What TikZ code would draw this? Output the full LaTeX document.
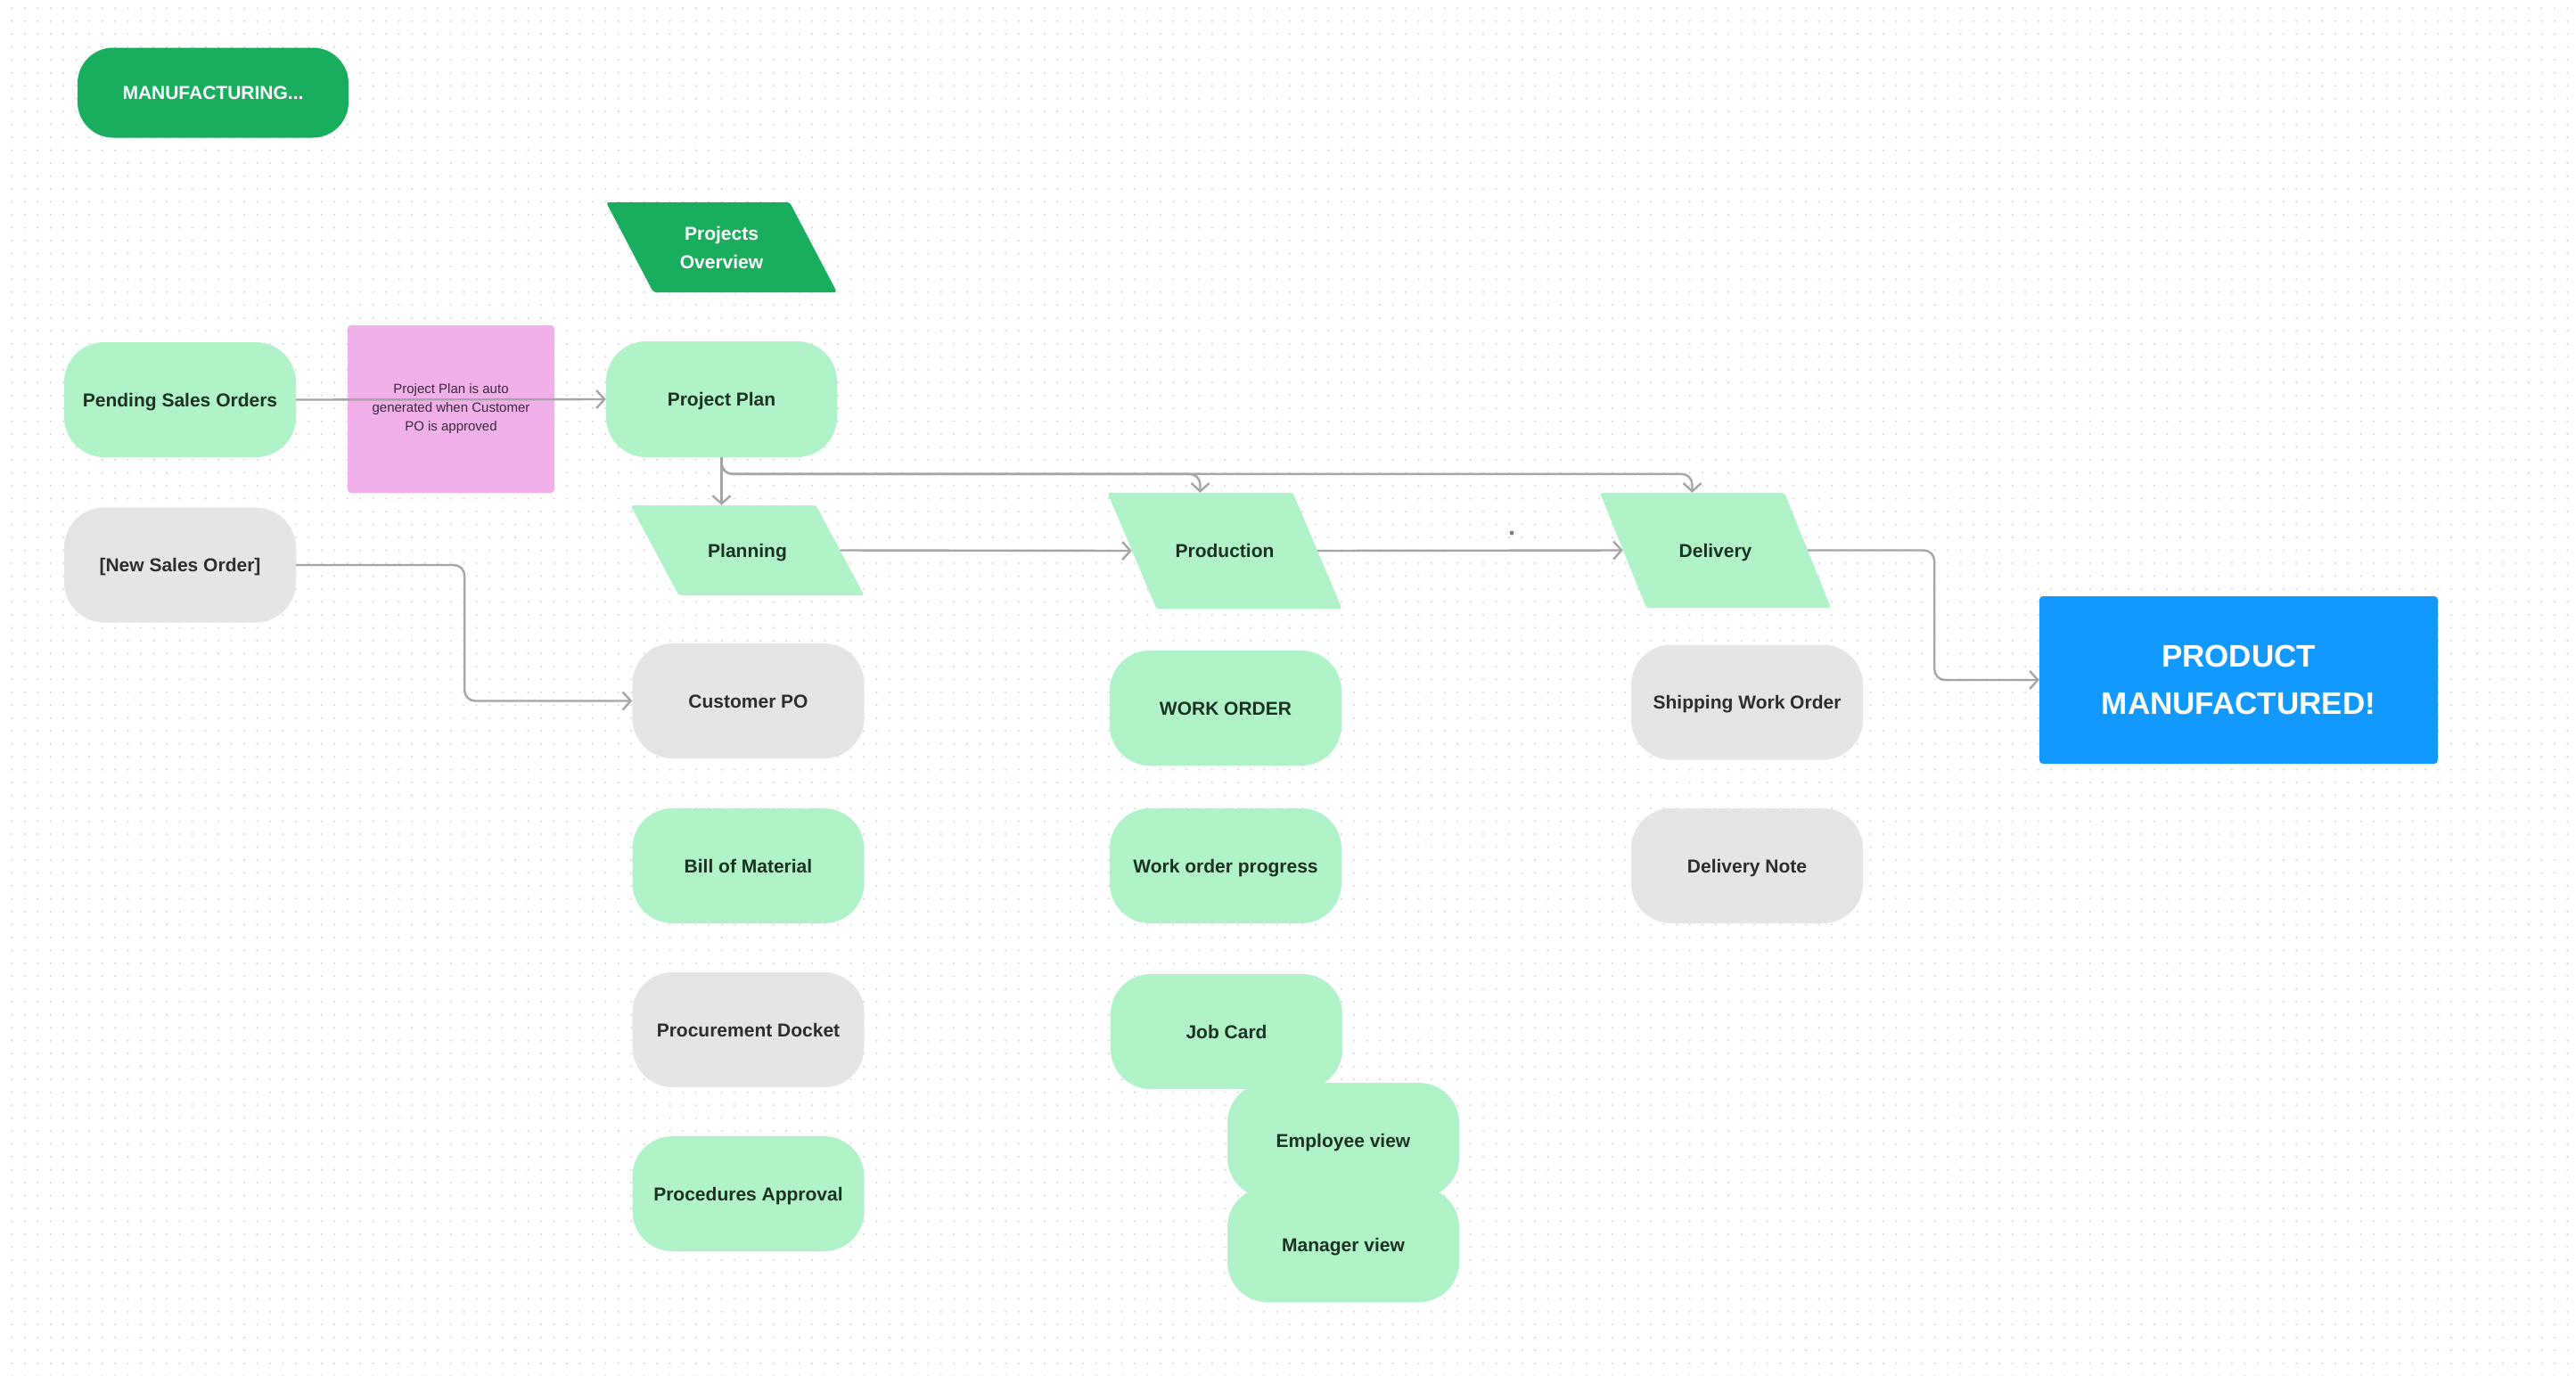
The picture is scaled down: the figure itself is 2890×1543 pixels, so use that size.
\documentclass[tikz,border=0pt]{standalone}
\usepackage{fontspec}
\setmainfont{Liberation Sans}
\usetikzlibrary{arrows.meta,calc}
\definecolor{lgreen}{RGB}{176,243,200}
\definecolor{dgreen}{RGB}{24,174,94}
\definecolor{lgray}{RGB}{229,229,229}
\definecolor{notepink}{RGB}{242,176,234}
\definecolor{pblue}{RGB}{17,153,255}
\definecolor{conncol}{RGB}{165,165,165}
\definecolor{gtext}{RGB}{27,50,35}
\definecolor{ktext}{RGB}{45,45,45}
\definecolor{notetext}{RGB}{60,40,60}
\definecolor{dotcol}{RGB}{212,212,212}
\newcommand{\pgram}[9]{%
  \fill[#7, rounded corners=3pt] ({#2-#4/2-#6/2}, {#3-#5/2}) -- ({#2+#4/2-#6/2}, {#3-#5/2}) -- ({#2+#4/2+#6/2}, {#3+#5/2}) -- ({#2-#4/2+#6/2}, {#3+#5/2}) -- cycle;
  \node[plabel, #8, minimum width=#4pt, minimum height=#5pt] (#1) at (#2,#3) {#9};
}
\tikzset{
  lbl/.style={font=\fontsize{21pt}{32pt}\selectfont\bfseries, align=center},
  oneline/.style={text height=15.2pt, text depth=0pt},
  plabel/.style={lbl, inner sep=0pt},
  pill/.style={lbl, oneline, rounded corners=45pt, minimum width=260pt, minimum height=129pt, inner sep=0pt},
  greenpill/.style={pill, fill=lgreen, text=gtext},
  graypill/.style={pill, fill=lgray, text=ktext},
  conn/.style={draw=conncol, line width=2.4pt, rounded corners=12pt, -{Straight Barb[length=9pt,width=20pt]}},
}
\begin{document}
\begin{tikzpicture}[x=1pt,y=-1pt]
\useasboundingbox (0,0) rectangle (2890,1543);
\fill[white] (0,0) rectangle (2890,1543);
% dot grid
\foreach \k in {0,...,106} {
  \draw[dotcol, line width=2.2pt, line cap=round, dash pattern=on 0pt off 14.48pt] (13.3, {9.3+\k*14.48}) -- (2890, {9.3+\k*14.48});
}
\fill[gray] (1696,598) circle (2.5);

% title
\node[lbl, fill=dgreen, text=white, rounded corners=40pt, minimum width=304pt, minimum height=101pt, inner sep=0pt, text height=15pt, text depth=0pt, font=\fontsize{21pt}{24pt}\selectfont\bfseries] (manu) at (239,104) {MANUFACTURING...};

% parallelograms
\pgram{ovw}{809.5}{277.5}{206}{101}{53}{dgreen}{text=white}{Projects\\Overview}
\pgram{plan}{838.5}{617.5}{208}{101}{54}{lgreen}{text=gtext,oneline}{Planning}
\pgram{prod}{1374}{618}{208}{130}{55}{lgreen}{text=gtext,oneline}{Production}
\pgram{del}{1924.5}{617.5}{207}{129}{52}{lgreen}{text=gtext,oneline}{Delivery}

% left column
\node[greenpill] (pso) at (202,448.5) {Pending Sales Orders};
\node[graypill] (nso) at (202,634) {[New Sales Order]};
\node[fill=notepink, rounded corners=4pt, minimum width=232pt, minimum height=188pt, inner sep=0pt, align=center, text=notetext, font=\fontsize{15pt}{21pt}\selectfont] (note) at (506,459) {Project Plan is auto\\generated when Customer\\PO is approved};
\node[greenpill, minimum width=259pt, minimum height=130pt] (pp) at (809.5,448) {Project Plan};

% planning column
\node[graypill] (cpo) at (839.5,786.5) {Customer PO};
\node[greenpill] (bom) at (839.5,971.5) {Bill of Material};
\node[graypill] (pdk) at (839.5,1155.5) {Procurement Docket};
\node[greenpill] (pap) at (839.5,1339.5) {Procedures Approval};

% production column
\node[greenpill] (wo) at (1375,794.5) {WORK ORDER};
\node[greenpill] (wop) at (1375,971.5) {Work order progress};
\node[greenpill] (jc) at (1376,1157.5) {Job Card};
\node[greenpill] (emp) at (1507,1279.5) {Employee view};
\node[greenpill] (mgr) at (1507,1396.5) {Manager view};

% delivery column
\node[graypill] (swo) at (1960,788) {Shipping Work Order};
\node[graypill] (dn) at (1960,971.5) {Delivery Note};

% final
\node[fill=pblue, text=white, rounded corners=4pt, minimum width=447pt, minimum height=188pt, inner sep=0pt, align=center, font=\fontsize{35pt}{53pt}\selectfont\bfseries] (pm) at (2511.5,763) {PRODUCT\\MANUFACTURED!};

% connectors
\draw[conn] (pso.east) -- (pp.west);
\draw[conn] (pp.south) -- (pp.south |- plan.north);
\draw[conn] (pp.south) |- ([xshift=-27.5pt,yshift=21pt]prod.north) -- ([xshift=-27.5pt]prod.north);
\draw[conn] (pp.south) |- ([xshift=-26pt,yshift=21pt]del.north) -- ([xshift=-26pt]del.north);
\draw[conn] (plan.east) -- (prod.west);
\draw[conn] (prod.east) -- (del.west);
\draw[conn] (del.east) -- ++(142,0) |- (pm.west);
\draw[conn] (nso.east) -- ++(189,0) |- (cpo.west);
\end{tikzpicture}
\end{document}
